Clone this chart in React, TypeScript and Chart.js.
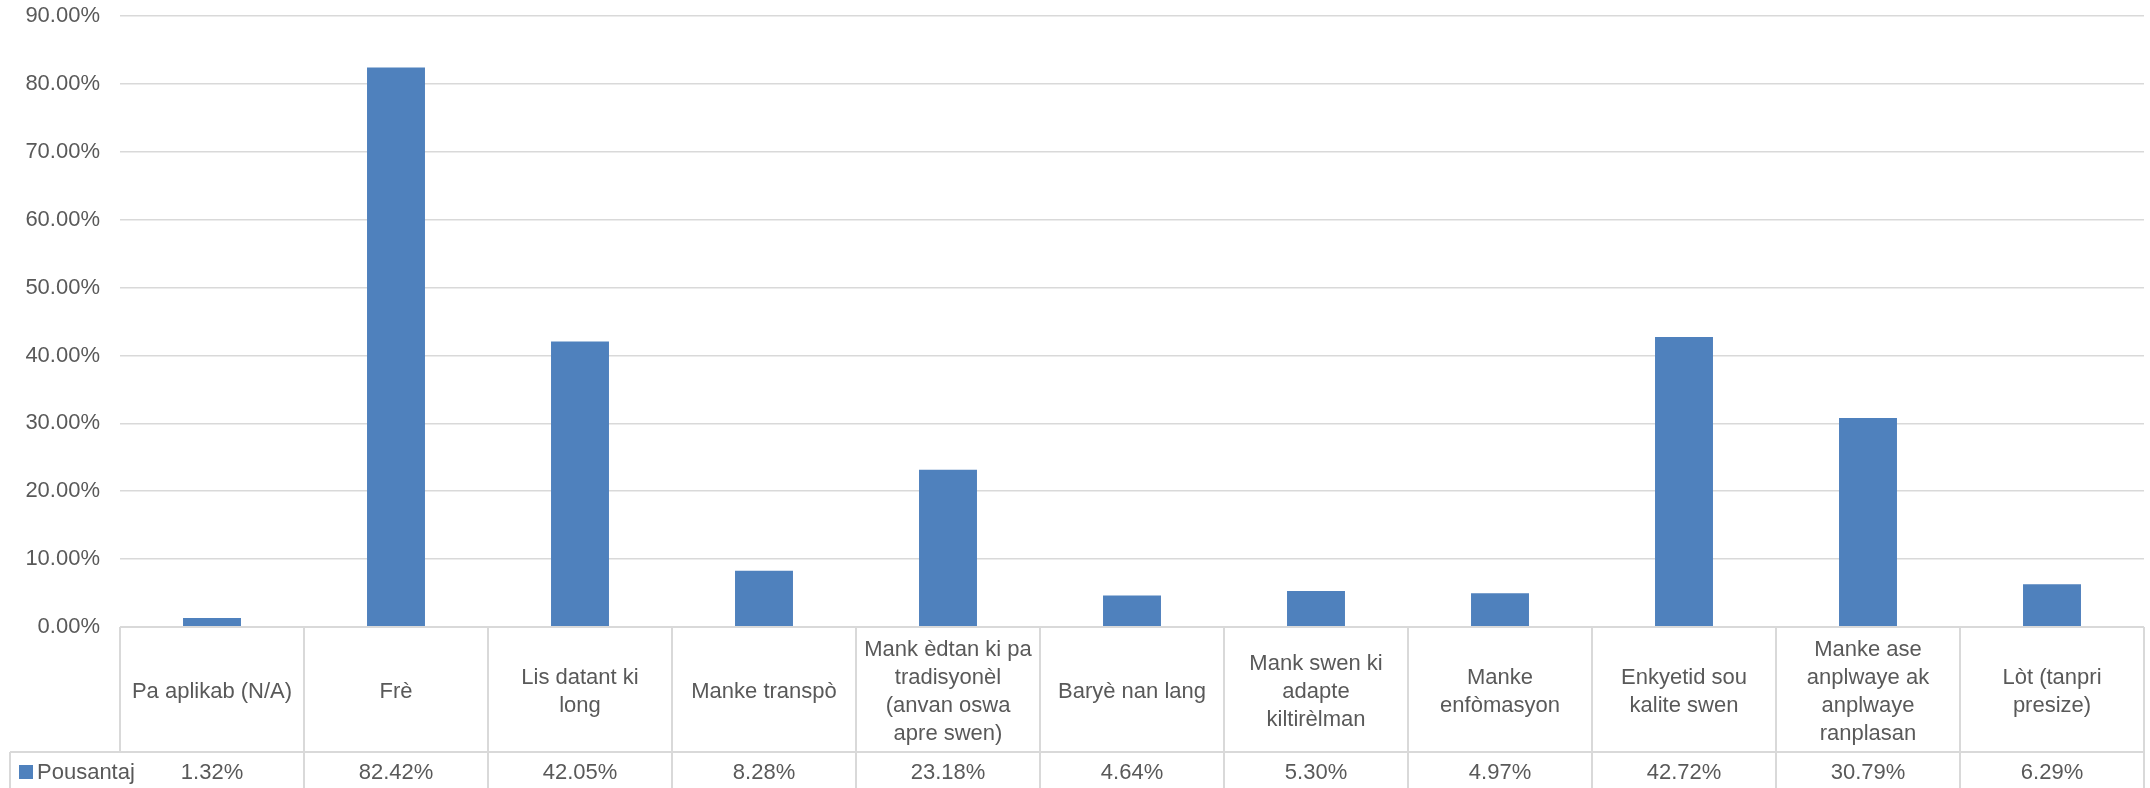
import React, { useEffect, useRef } from "react";
import { Chart, registerables } from "chart.js";

Chart.register(...registerables);

const categories: string[][] = [
  ["Pa aplikab (N/A)"],
  ["Frè"],
  ["Lis datant ki", "long"],
  ["Manke transpò"],
  ["Mank èdtan ki pa", "tradisyonèl", "(anvan oswa", "apre swen)"],
  ["Baryè nan lang"],
  ["Mank swen ki", "adapte", "kiltirèlman"],
  ["Manke", "enfòmasyon"],
  ["Enkyetid sou", "kalite swen"],
  ["Manke ase", "anplwaye ak", "anplwaye", "ranplasan"],
  ["Lòt (tanpri", "presize)"],
];
const seriesName = "Pousantaj";
const values: number[] = [1.32, 82.42, 42.05, 8.28, 23.18, 4.64, 5.3, 4.97, 42.72, 30.79, 6.29];
const yMax = 90;
const yStep = 10;

const BAR = "#4F81BD";
const GRID = "#d9d9d9";
const TEXT = "#595959";
const FONT = "'Liberation Sans', Arial, sans-serif";
const FS = 22;

export default function App() {
  const ref = useRef<HTMLCanvasElement | null>(null);
  useEffect(() => {
    document.body.style.margin = "0";
    const canvas = ref.current!;
    const tablePlugin = {
      id: "dataTable",
      afterDraw(chart: any) {
        const ctx = chart.ctx as CanvasRenderingContext2D;
        const { left, right, bottom } = chart.chartArea;
        const H = chart.height;
        const n = categories.length;
        const w = (right - left) / n;
        const rowY = bottom + 125;
        const legendLeft = 10;
        ctx.save();
        ctx.strokeStyle = GRID;
        ctx.lineWidth = 2;
        ctx.beginPath();
        ctx.moveTo(left, bottom);
        ctx.lineTo(right, bottom);
        for (let i = 0; i <= n; i++) {
          const x = left + i * w;
          ctx.moveTo(x, bottom);
          ctx.lineTo(x, i === 0 ? rowY : H);
        }
        ctx.moveTo(legendLeft, rowY);
        ctx.lineTo(right, rowY);
        ctx.moveTo(legendLeft, rowY);
        ctx.lineTo(legendLeft, H);
        ctx.stroke();

        ctx.fillStyle = TEXT;
        ctx.font = `${FS}px ${FONT}`;
        ctx.textAlign = "center";
        ctx.textBaseline = "middle";
        const lh = 28;
        const midY = (bottom + rowY) / 2 + 2;
        const xs = chart.scales.x;
        categories.forEach((lines, i) => {
          const cx = xs.getPixelForValue(i);
          const y0 = midY - ((lines.length - 1) * lh) / 2;
          lines.forEach((t, j) => ctx.fillText(t, cx, y0 + j * lh));
        });
        const valY = rowY + 21;
        values.forEach((v, i) => {
          const cx = xs.getPixelForValue(i);
          ctx.fillText(v.toFixed(2) + "%", cx, valY);
        });
        ctx.fillStyle = BAR;
        ctx.fillRect(19, valY - 8, 14, 14);
        ctx.fillStyle = TEXT;
        ctx.textAlign = "left";
        ctx.fillText(seriesName, 37, valY);
        ctx.restore();
      },
    };
    const chart = new Chart(canvas, {
      type: "bar",
      data: {
        labels: categories.map((c) => c.join(" ")),
        datasets: [
          {
            label: seriesName,
            data: values,
            backgroundColor: BAR,
            barPercentage: 1,
            categoryPercentage: 0.315,
          },
        ],
      },
      options: {
        animation: false,
        responsive: false,
        devicePixelRatio: 1,
        layout: { padding: { top: 16, right: 6, left: 0, bottom: 0 } },
        plugins: { legend: { display: false }, tooltip: { enabled: false } },
        scales: {
          x: {
            ticks: { display: false },
            grid: { display: false },
            border: { display: false },
            afterFit: (s: any) => {
              s.height = 161;
              s.paddingTop = 0;
              s.paddingBottom = 0;
            },
          },
          y: {
            min: 0,
            max: yMax,
            ticks: {
              stepSize: yStep,
              padding: 20,
              color: TEXT,
              font: { size: FS, family: FONT },
              callback: (v: any) => Number(v).toFixed(2) + "%",
            },
            grid: { color: GRID, lineWidth: 1.5, drawTicks: false },
            border: { display: false },
            afterFit: (s: any) => {
              s.width = 120;
              s.paddingTop = 0;
              s.paddingBottom = 0;
            },
          },
        },
      },
      plugins: [tablePlugin],
    });
    return () => chart.destroy();
  }, []);
  return (
    <div style={{ position: "fixed", left: 0, top: 0, width: 2150, height: 788, background: "#fff" }}>
      <canvas ref={ref} width={2150} height={788} />
    </div>
  );
}
